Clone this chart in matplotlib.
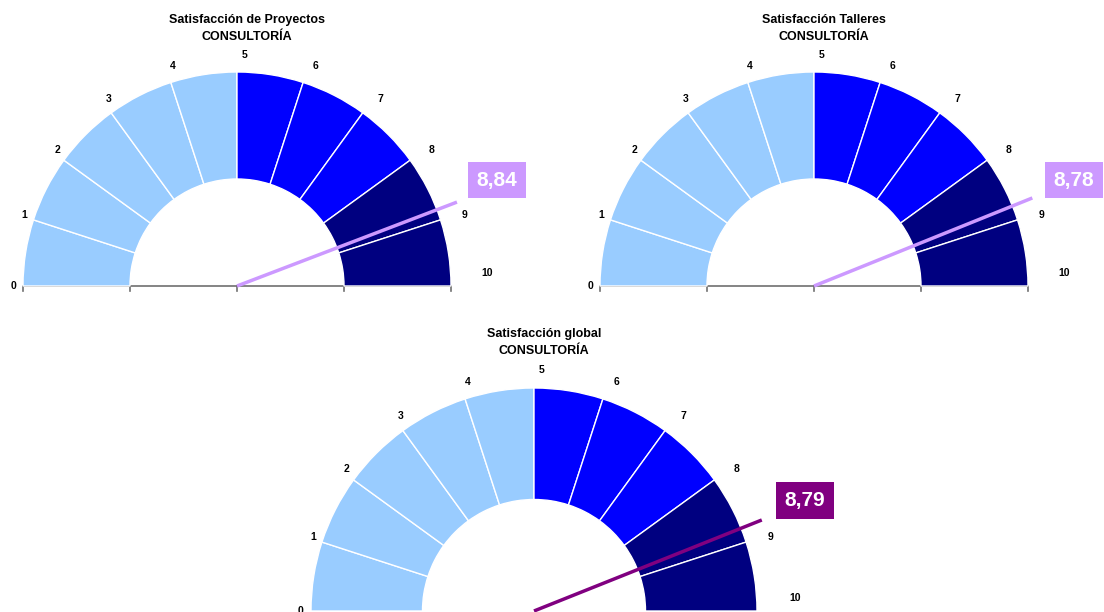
import numpy as np
import matplotlib
matplotlib.use('Agg')
from matplotlib import pyplot as plt
from matplotlib.patches import Wedge

plt.rcParams['font.family'] = ['Liberation Sans', 'DejaVu Sans']

# data
titles = ['Satisfacción de Proyectos', 'Satisfacción Talleres', 'Satisfacción global']
subtitle = 'CONSULTORÍA'
values = [8.84, 8.78, 8.79]
value_labels = ['8,84', '8,78', '8,79']
needle_colors = ['#CC99FF', '#CC99FF', '#800080']
scale_ticks = list(range(0, 11))
band_edges = [0, 5, 8, 10]
band_colors = ['#99CCFF', '#0000FF', '#000080']

W, H = 1104, 612
# gauge centre in pixels (from bottom-left) and outer radius
gauges = [(237, 326, 214), (814, 326, 214), (534, 1, 223)]


def ang(v):
    return 180.0 - 18.0 * v


def draw_gauge(fig, cx, cy, R, title, value, vlabel, ncol, show_axis):
    x0, x1, y0, y1 = -1.3, 1.6, -0.2, 1.45
    ax = fig.add_axes([(cx + x0 * R) / W, (cy + y0 * R) / H,
                       (x1 - x0) * R / W, (y1 - y0) * R / H])
    ax.set_xlim(x0, x1)
    ax.set_ylim(y0, y1)
    ax.axis('off')

    for i in range(len(scale_ticks) - 1):
        v = scale_ticks[i]
        b = np.searchsorted(band_edges, v, side='right') - 1
        w = Wedge((0, 0), 1.0, ang(v + 1), ang(v), width=0.5,
                  facecolor=band_colors[b], edgecolor='white', lw=1.0, zorder=2)
        ax.add_patch(w)

    for v in scale_ticks:
        a = np.radians(ang(v))
        r = 1.08
        dx = 0.035 if v < 10 else 0.09
        dy = 0.0 if v < 10 else 0.06
        ax.text(r * np.cos(a) + dx, r * np.sin(a) + dy, str(v), ha='center', va='center',
                fontsize=7.5, fontweight='bold', color='black', clip_on=False)

    if show_axis:
        ax.plot([-1, 1], [0, 0], color='#707070', lw=1.2, zorder=1, solid_capstyle='butt')
        for t in [-1, -0.5, 0, 0.5, 1]:
            ax.plot([t, t], [0, -0.025], color='#707070', lw=1.2, zorder=1)

    a = np.radians(ang(value))
    ax.plot([0, 1.10 * np.cos(a)], [0, 1.10 * np.sin(a)], color=ncol, lw=2.5,
            zorder=4, solid_capstyle='butt')

    ax.text(1.215, 0.495, vlabel, ha='center', va='center', fontsize=15,
            fontweight='bold', color='white', zorder=5,
            bbox=dict(boxstyle='square,pad=0.42', facecolor=ncol, edgecolor='none'))

    ax.text(0.047, 1.243, title, ha='center', va='center', fontsize=9,
            fontweight='bold')
    ax.text(0.045, 1.165, subtitle, ha='center', va='center', fontsize=9,
            fontweight='bold')


fig = plt.figure(figsize=(W / 100, H / 100), dpi=100)
for i, (cx, cy, R) in enumerate(gauges):
    draw_gauge(fig, cx, cy, R, titles[i], values[i], value_labels[i],
               needle_colors[i], i < 2)

fig.savefig('out.png', dpi=100)
